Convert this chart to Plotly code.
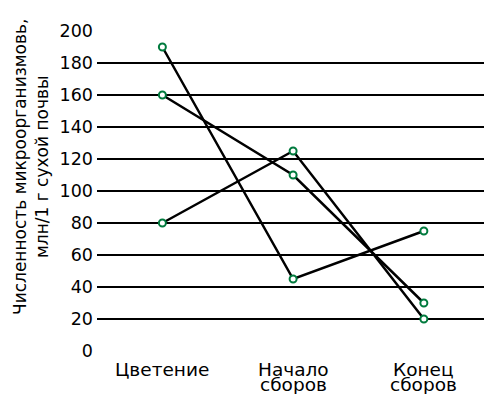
import plotly.graph_objects as go

categories = ["Цветение", "Начало сборов", "Конец сборов"]
label_line1 = ["Цветение", "Начало", "Конец"]
label_line2 = ["", "сборов", "сборов"]
series_a = [190, 45, 75]
series_b = [160, 110, 30]
series_c = [80, 125, 20]
y_ticks = [0, 20, 40, 60, 80, 100, 120, 140, 160, 180, 200]

fig = go.Figure()
for s in [series_a, series_b, series_c]:
    fig.add_trace(go.Scatter(
        x=categories, y=s, mode="lines+markers",
        line=dict(color="black", width=2.5),
        marker=dict(symbol="circle", size=7, color="white",
                    line=dict(color="#007a3d", width=2)),
        showlegend=False, cliponaxis=False))

annotations = [dict(
    text="Численность микроорганизмовь,<br>млн/1 г сухой почвы",
    textangle=-90, xref="paper", yref="paper",
    x=(31 - 97) / 387, y=(351 - 167) / 320,
    xanchor="center", yanchor="middle", showarrow=False,
    font=dict(size=17))]
for cat, l1, l2 in zip(categories, label_line1, label_line2):
    annotations.append(dict(text=l1, xref="x", yref="paper", x=cat, y=0,
                            yanchor="top", yshift=-6, showarrow=False,
                            font=dict(size=18.5)))
    if l2:
        annotations.append(dict(text=l2, xref="x", yref="paper", x=cat, y=0,
                                yanchor="top", yshift=-21, showarrow=False,
                                font=dict(size=18.5)))

fig.update_layout(
    width=484, height=394,
    margin=dict(l=97, r=0, t=31, b=43),
    paper_bgcolor="white", plot_bgcolor="white",
    font=dict(family="DejaVu Sans, sans-serif", color="black", size=17),
    xaxis=dict(type="category", range=[-0.5, 2.46], showticklabels=False,
               showgrid=False, zeroline=False, showline=False, ticks=""),
    yaxis=dict(range=[0, 200], tickvals=y_ticks, showgrid=True,
               gridcolor="black", gridwidth=1.5, zeroline=False,
               showline=False, tickfont=dict(size=17.5), ticks="",
               ticklabelstandoff=3),
    annotations=annotations,
)
fig.write_html("out.html", config={"displayModeBar": False},
               post_script="document.body.style.margin='0';document.body.style.padding='0';")
